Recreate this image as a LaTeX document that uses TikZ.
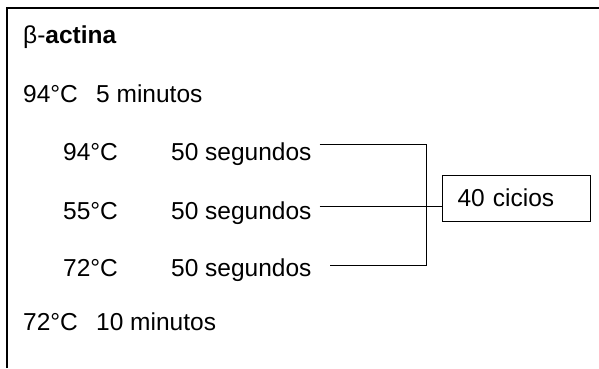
\documentclass[tikz,border=0pt]{standalone}
\usepackage{fontspec}
\setmainfont{Liberation Sans}
\begin{document}
\begin{tikzpicture}[x=1pt,y=1pt,
  txt/.style={inner sep=0pt,anchor=base west,font=\fontsize{24.5}{28}\selectfont},
  conn/.style={line width=1pt},
  frame/.style={line width=1.4pt},
  cyclebox/.style={draw,line width=1pt,minimum width=148pt,minimum height=46pt,
     text width=118pt,align=left,inner xsep=15pt,inner ysep=0pt,anchor=west,
     font=\fontsize{24.5}{28}\selectfont}]
\useasboundingbox (0,0) rectangle (599,368);
\coordinate (tl) at (7,360);
\coordinate (tr) at (599,360);
\coordinate (bl) at (7,0);
\draw[frame] (bl) -- (tl) -- (tr);

\node[txt] (title) at (23,325) {β-\textbf{actina}};
\node[txt] (t0) at (23,266) {94°C};
\node[txt] (d0) at (96,266) {5 minutos};
\node[txt] (t1) at (63,208) {94°C};
\node[txt] (s1) at (171,208) {50 segundos};
\node[txt] (t2) at (63,149) {55°C};
\node[txt] (s2) at (171,149) {50 segundos};
\node[txt] (t3) at (63,92) {72°C};
\node[txt] (s3) at (171,92) {50 segundos};
\node[txt] (t4) at (23,38) {72°C};
\node[txt] (d4) at (96,38) {10 minutos};

\node[cyclebox] (box) at (442,170) {40 cicios};

\path (s1.base east) ++(8,16) coordinate (a1);
\path (s2.base east) ++(8,13) coordinate (a2);
\path (s3.base east) ++(18,11) coordinate (a3);
\coordinate (bx) at (426,0);
\draw[conn] (a1) -- (a1 -| bx) -- (a3 -| bx) -- (a3);
\draw[conn] (a2) -- (a2 -| box.west);
\end{tikzpicture}
\end{document}
